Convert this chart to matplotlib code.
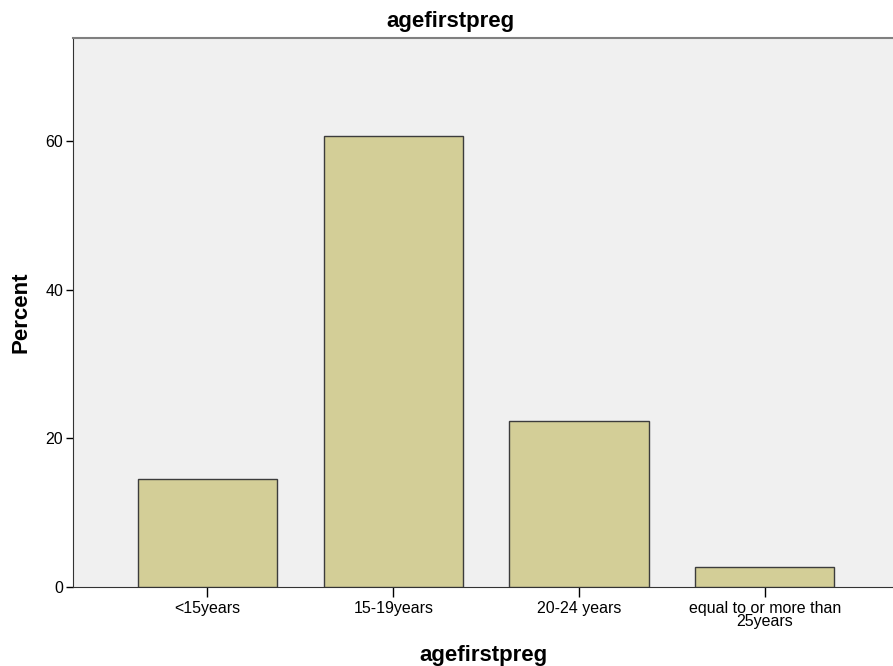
import matplotlib
matplotlib.use("Agg")
import matplotlib.pyplot as plt

categories = ["<15years", "15-19years", "20-24 years", "equal to or more than\n25years"]
percent = [14.5, 60.7, 22.4, 2.7]
yticks = [0, 20, 40, 60]

plt.rcParams['font.family'] = ['Liberation Sans', 'DejaVu Sans']

fig = plt.figure(figsize=(8.93, 6.66), dpi=100)
ax = fig.add_axes([73/893, 79/666, 1 - 73/893, (587-38)/666])
ax.set_facecolor("#F0F0F0")
x = list(range(len(categories)))
ax.bar(x, percent, width=0.75, color="#D3CE97", edgecolor="#3C3C3C", linewidth=1.0, zorder=3)
ax.set_xlim(-0.724, 3.69)
ax.set_ylim(0, 73.9)
ax.set_yticks(yticks)
ax.set_xticks(x)
ax.set_xticklabels(categories, fontsize=11.5, linespacing=0.88)
ax.tick_params(axis='y', direction='out', length=5, width=1, labelsize=11.5, pad=2)
ax.tick_params(axis='x', direction='out', length=7, width=1, labelsize=11.5, pad=3)
ax.spines['right'].set_visible(False)
ax.spines['top'].set_color("#808080")
ax.spines['top'].set_linewidth(1.5)
ax.spines['left'].set_color("#333333")
ax.spines['bottom'].set_color("#333333")
fig.text(450/893, 1 - 21/666, "agefirstpreg", fontsize=16, fontweight='bold', ha='center', va='center')
ax.set_xlabel("agefirstpreg", fontsize=16, fontweight='bold', labelpad=11)
ax.set_ylabel("Percent", fontsize=16, fontweight='bold', labelpad=10)
fig.savefig("out.png", dpi=100)
